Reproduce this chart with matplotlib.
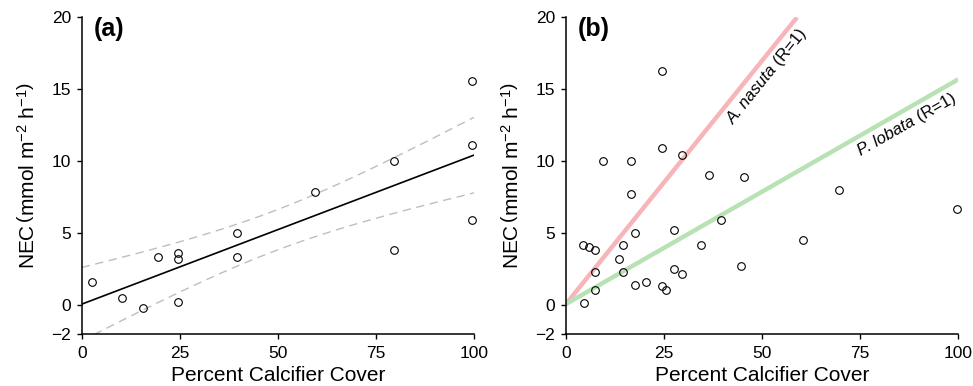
import numpy as np
import matplotlib
matplotlib.use('Agg')
import matplotlib.pyplot as plt

plt.rcParams['font.family'] = ['Liberation Sans', 'DejaVu Sans']
plt.rcParams['mathtext.fontset'] = 'custom'
plt.rcParams['mathtext.rm'] = 'Liberation Sans'
plt.rcParams['mathtext.it'] = 'Liberation Sans:italic'

# panel (a): site means
coverA = [2.5, 10.3, 15.5, 19.5, 24.5, 24.5, 24.5, 39.5, 39.5, 59.5, 79.5, 79.5, 99.5, 99.5, 99.5]
necA = [1.65, 0.55, -0.15, 3.35, 3.65, 3.2, 0.25, 5.05, 3.35, 7.85, 10.05, 3.85, 15.55, 11.15, 5.95]

# fitted model for (a): line + confidence band
fitIntercept = 0.09
fitSlope = 0.1035
bandCentre = 49.0
bandMinVar = 1.96
bandCurv = 0.00189

# panel (b): individual measurements
coverB = [4.25, 5.95, 7.5, 7.5, 7.5, 4.5, 9.5, 16.5, 16.5, 17.5, 14.45, 13.4, 14.45, 17.5, 20.5,
          24.5, 24.5, 29.5, 24.5, 25.5, 27.45, 27.45, 29.5, 36.45, 45.45, 34.5, 39.4, 44.5,
          60.5, 69.5, 99.6]
necB = [4.23, 4.05, 3.84, 2.34, 1.04, 0.14, 10.02, 10.02, 7.73, 5.04, 4.23, 3.24, 2.34, 1.43, 1.62,
        16.25, 10.95, 10.44, 1.34, 1.04, 5.23, 2.54, 2.15, 9.05, 8.93, 4.23, 5.95, 2.75,
        4.53, 8.03, 6.73]

# single species rates (R=1)
nasutaSlope = 0.338
lobataSlope = 0.156
lineStart = 0.1

xTicks = [0, 25, 50, 75, 100]
yTicks = [-2, 0, 5, 10, 15, 20]


def styleAxes(ax, tag):
    ax.set_xlim(0, 100)
    ax.set_ylim(-2, 20)
    for s in ['top', 'right']:
        ax.spines[s].set_visible(False)
    for s in ['left', 'bottom']:
        ax.spines[s].set_linewidth(1.1)
    ax.set_xticks(xTicks)
    ax.set_yticks(yTicks)
    ax.tick_params(direction='out', length=3.8, width=1.0, labelsize=12.5, pad=4)
    ax.tick_params(axis='x', pad=5)
    ax.set_xlabel('Percent Calcifier Cover', fontsize=15, labelpad=3)
    ax.set_ylabel(r'NEC$\,\left(\mathrm{mmol\ m^{-2}\ h^{-1}}\right)$', fontsize=15, labelpad=9)
    ax.text(0.03, 1.0, tag, transform=ax.transAxes, fontsize=18, fontweight='bold',
            ha='left', va='top')


def speciesLabel(ax, x, y, slope, species, rest, size=12):
    # angle of the line on screen
    ang = ax.transData.transform_angles(np.array([np.degrees(np.arctan(slope))]),
                                        np.array([[x, y]]))[0]
    ax.text(x, y, species, fontsize=size, style='italic', rotation=ang,
            rotation_mode='anchor', ha='left', va='baseline')
    r = fig.canvas.get_renderer()
    tmp = ax.text(0, 0, species, fontsize=size, style='italic')
    w = tmp.get_window_extent(r).width * 72.0 / fig.dpi
    tmp.remove()
    a = np.radians(ang)
    ax.annotate(rest, xy=(x, y), xytext=(w * np.cos(a), w * np.sin(a)),
                textcoords='offset points', fontsize=size, rotation=ang,
                rotation_mode='anchor', ha='left', va='baseline')


fig = plt.figure(figsize=(9.73, 3.86), dpi=100)
axA = fig.add_axes([0.084, 0.134, 0.4032, 0.821])
axB = fig.add_axes([0.5817, 0.134, 0.4032, 0.821])

# (a)
xs = np.linspace(0, 100, 201)
mid = fitIntercept + fitSlope * xs
hw = np.sqrt(bandMinVar + bandCurv * (xs - bandCentre) ** 2)
axA.plot(xs, mid + hw, color='#BEBEBE', lw=1.0, dashes=(6, 4))
axA.plot(xs, mid - hw, color='#BEBEBE', lw=1.0, dashes=(6, 4))
axA.plot([0, 100], [fitIntercept, fitIntercept + fitSlope * 100], color='black', lw=1.2)
axA.plot(coverA, necA, 'o', mfc='none', mec='black', ms=5.5, mew=0.8, clip_on=False)
styleAxes(axA, '(a)')

# (b)
styleAxes(axB, '(b)')
xEnd = (20 - lineStart) / nasutaSlope
axB.plot([0, xEnd], [lineStart, lineStart + nasutaSlope * xEnd], color='#F7B5B9', lw=3.2,
         solid_capstyle='butt')
axB.plot([0, 100], [lineStart, lineStart + lobataSlope * 100], color='#B8E2B4', lw=3.2,
         solid_capstyle='butt')
axB.plot(coverB, necB, 'o', mfc='none', mec='black', ms=5.5, mew=0.8, clip_on=False)
speciesLabel(axB, 42.8, 12.5, nasutaSlope, 'A. nasuta', ' (R=1)')
speciesLabel(axB, 75.2, 10.35, lobataSlope, 'P. lobata', ' (R=1)')

fig.savefig('out.png', dpi=100)
